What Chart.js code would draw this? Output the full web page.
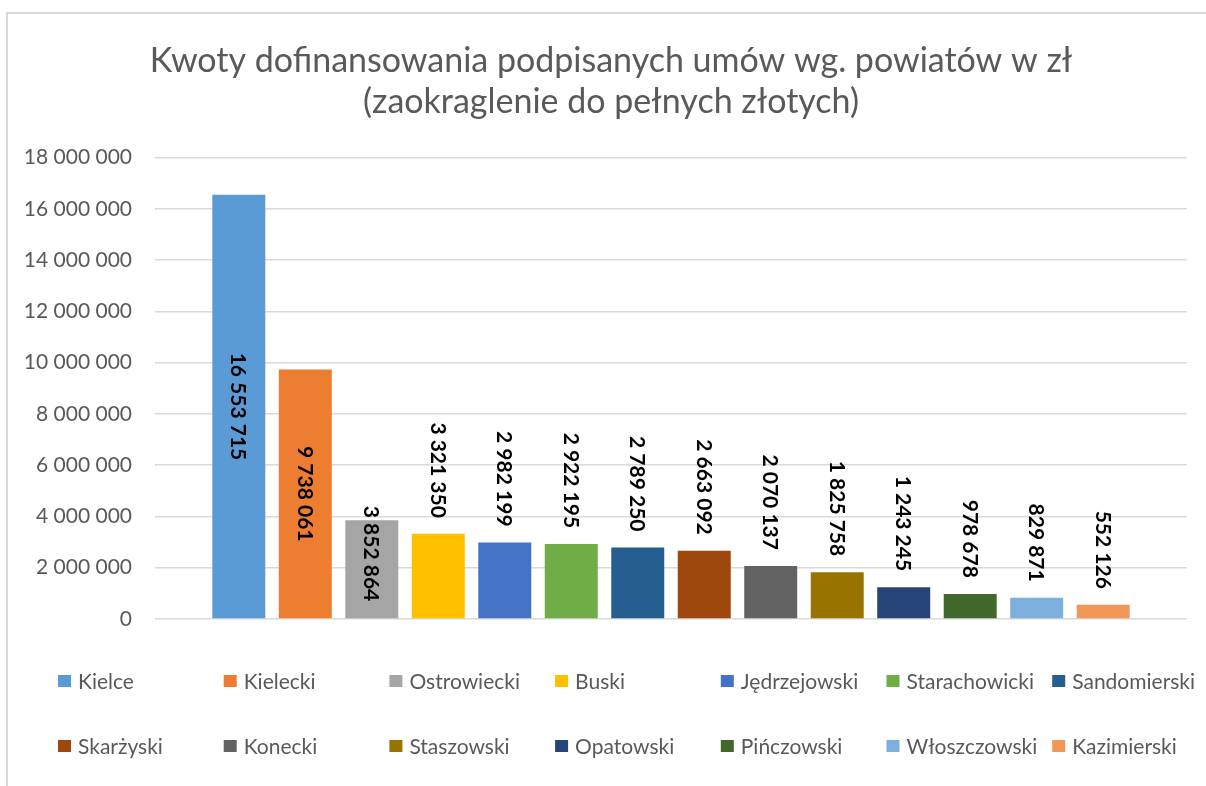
<!DOCTYPE html>
<html>
<head>
<meta charset="utf-8">
<script src="https://cdn.jsdelivr.net/npm/chart.js@4.4.0/dist/chart.umd.min.js"></script>
<style>
  html, body { margin: 0; padding: 0; background: #fff; }
</style>
</head>
<body>
<canvas id="chart1" width="1206" height="786"></canvas>
<script>
// dane: powiaty i kwoty dofinansowania (zl)
const powiaty = ['Kielce', 'Kielecki', 'Ostrowiecki', 'Buski', 'Jędrzejowski', 'Starachowicki', 'Sandomierski',
                 'Skarżyski', 'Konecki', 'Staszowski', 'Opatowski', 'Pińczowski', 'Włoszczowski', 'Kazimierski'];
const kwoty = [16553715, 9738061, 3852864, 3321350, 2982199, 2922195, 2789250,
               2663092, 2070137, 1825758, 1243245, 978678, 829871, 552126];
const kolory = ['#5B9BD5', '#ED7D31', '#A5A5A5', '#FFC000', '#4472C4', '#70AD47', '#255E91',
                '#9E480E', '#636363', '#997300', '#264478', '#43682B', '#7CAFDD', '#F1975A'];
// gdzie etykieta: w srodku slupka albo nad nim
const etykiety = ['center', 'center', 'center', 'end', 'end', 'end', 'end',
                  'end', 'end', 'end', 'end', 'end', 'end', 'end'];
const yMax = 18000000;
const yStep = 2000000;

const FONT = 'Lato';
const fmt = v => String(v).replace(/\B(?=(\d{3})+(?!\d))/g, ' ');

// ramka wykresu (jak w Excelu)
const ramka = {
    id: 'ramka',
    beforeDraw(chart) {
        const c = chart.ctx;
        c.save();
        c.fillStyle = '#fff';
        c.fillRect(0, 0, chart.width, chart.height);
        c.strokeStyle = '#d9d9d9';
        c.lineWidth = 2;
        c.beginPath();
        c.moveTo(7, chart.height);
        c.lineTo(7, 13);
        c.lineTo(chart.width, 13);
        c.stroke();
        c.restore();
    }
};

// etykiety danych obrocone o 90 stopni
const wartosci = {
    id: 'wartosci',
    afterDatasetsDraw(chart) {
        const c = chart.ctx;
        const size = 21;
        c.save();
        c.font = 'bold ' + size + 'px ' + FONT;
        c.fillStyle = '#000';
        c.textBaseline = 'alphabetic';
        chart.data.datasets.forEach((ds, i) => {
            const bar = chart.getDatasetMeta(i).data[0];
            const txt = fmt(ds.data[0]);
            const len = c.measureText(txt).width;
            let start;
            if (etykiety[i] === 'center') {
                let mid = (bar.y + bar.base) / 2;
                mid = Math.min(mid, bar.base - 17 - len / 2);
                start = mid - len / 2;
            } else {
                start = bar.y - 16 - len;
            }
            c.save();
            c.translate(bar.x, start);
            c.rotate(Math.PI / 2);
            c.textAlign = 'left';
            c.fillText(txt, 0, size * 0.36);
            c.restore();
        });
        c.restore();
    }
};

// legenda w siatce 7 kolumn
const legenda = {
    id: 'legenda',
    afterDraw(chart) {
        const c = chart.ctx;
        c.save();
        c.font = '21px ' + FONT;
        c.textBaseline = 'middle';
        c.textAlign = 'left';
        chart.data.datasets.forEach((ds, i) => {
            const col = i % 7, row = Math.floor(i / 7);
            const x = 58 + col * 165.7;
            const y = 681 + row * 65;
            c.fillStyle = ds.backgroundColor;
            c.fillRect(x, y - 6, 13, 12);
            c.fillStyle = '#595959';
            c.fillText(ds.label, x + 20, y + 1);
        });
        c.restore();
    }
};

const ctx1 = document.getElementById('chart1').getContext('2d');
new Chart(ctx1, {
    type: 'bar',
    data: {
        labels: [''],
        datasets: powiaty.map((p, i) => ({
            label: p,
            data: [kwoty[i]],
            backgroundColor: kolory[i],
            categoryPercentage: 0.902,
            barPercentage: 0.797
        }))
    },
    options: {
        responsive: false,
        animation: false,
        layout: { padding: { left: 16, right: 0, top: 0, bottom: 167 } },
        plugins: {
            legend: { display: false },
            tooltip: { enabled: false },
            title: {
                display: true,
                text: ['Kwoty dofinansowania podpisanych umów wg. powiatów w zł', '(zaokraglenie do pełnych złotych)'],
                color: '#595959',
                font: { family: FONT, size: 34, weight: 'normal', lineHeight: 1.2 },
                padding: { top: 41, bottom: 35 }
            }
        },
        scales: {
            x: { display: false },
            y: {
                min: 0,
                max: yMax,
                ticks: {
                    stepSize: yStep,
                    color: '#595959',
                    font: { family: FONT, size: 21 },
                    padding: 23,
                    callback: v => fmt(v)
                },
                grid: { color: '#d9d9d9', lineWidth: 1.5, drawTicks: false },
                border: { display: false },
                afterFit(s) { s.width = 139; }
            },
            // pusta os po prawej, tylko jako margines
            y2: {
                position: 'right',
                ticks: { display: false },
                grid: { display: false },
                border: { display: false },
                afterFit(s) { s.width = 19; }
            }
        }
    },
    plugins: [ramka, wartosci, legenda]
});
</script>
</body>
</html>
